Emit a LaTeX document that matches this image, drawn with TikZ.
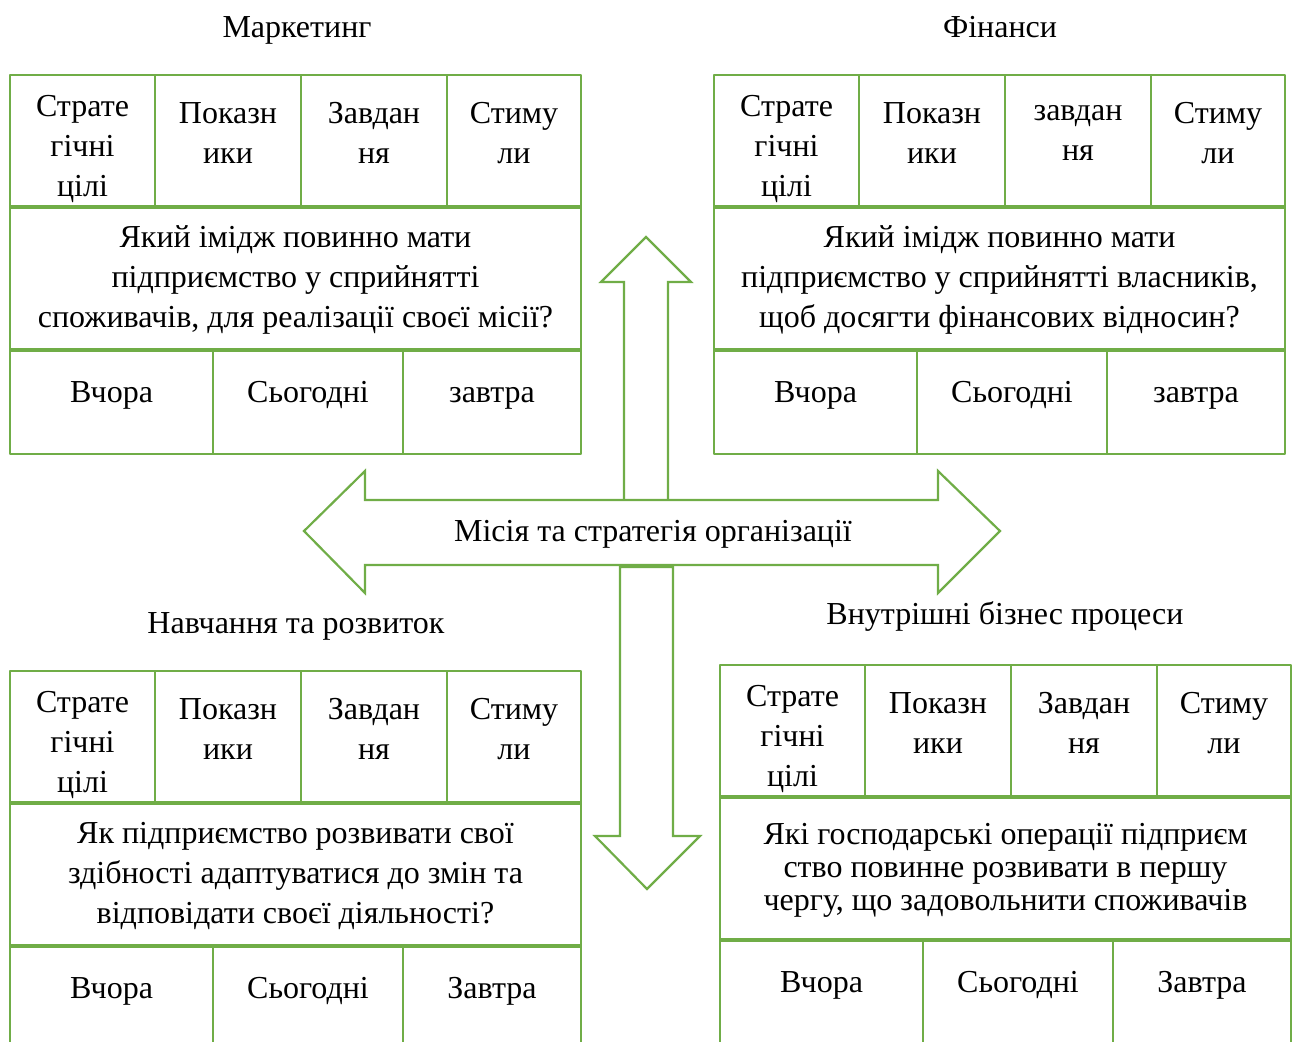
\documentclass[tikz,border=0pt]{standalone}
\usepackage{fontspec}
\setmainfont{Liberation Serif}
\definecolor{leaf}{HTML}{70AD47}
\tikzset{
  frame/.style={draw=leaf, line width=1.4pt},
  sep/.style={draw=leaf, line width=2pt},
  pointer/.style={draw=leaf, line width=1.1pt, line join=miter, fill=white},
  cell/.style={align=center, inner sep=0pt},
  word/.style={inner sep=0pt, anchor=base},
}
\newcommand{\panel}[6]{%
  \begin{scope}[shift={#2}]
    \draw[frame] (0,0) rectangle (571,#3);
    \foreach \x in {145,291,437} \draw[frame] (\x,0) -- (\x,132);
    \foreach \x in {203,393} \draw[frame] (\x,275) -- (\x,#3);
    \draw[sep] (0,132) -- (571,132) (0,275) -- (571,275);
    \node[cell] (#1-goal) at (72.5,74) {Страте\\гічні\\цілі};
    \node[cell] (#1-kpi) at (218,58) {Показн\\ики};
    \node[cell] (#1-task) at (364,58) {#4\\ня};
    \node[cell] (#1-bonus) at (504,58) {Стиму\\ли};
    \node[cell] (#1-ask) at (285.5,205) {#5};
    \node[word] (#1-past) at (101.5,327) {Вчора};
    \node[word] (#1-now) at (298,327) {Сьогодні};
    \node[word] (#1-next) at (482,327) {#6};
  \end{scope}}
\begin{document}
\begin{tikzpicture}[x=0.5pt, y=-0.5pt, font=\fontsize{16}{20}\selectfont, line join=round]
  \useasboundingbox (0,0) rectangle (1295,1041);
  \clip (0,0) rectangle (1295,1041);

  \node[word] (mkt) at (297,37.5) {Маркетинг};
  \node[word] (fin) at (1000,37.5) {Фінанси};
  \node[word] (edu) at (296,633.5) {Навчання та розвиток};
  \node[word] (ops) at (1005,624.5) {Внутрішні бізнес процеси};

  \panel{mkt}{(10,75)}{379}{Завдан}{Який імідж повинно мати\\підприємство у сприйнятті\\споживачів, для реалізації своєї місії?}{завтра}
  \panel{fin}{(714,75)}{379}{завдан}{Який імідж повинно мати\\підприємство у сприйнятті власників,\\щоб досягти фінансових відносин?}{завтра}
  \panel{edu}{(10,671)}{400}{Завдан}{Як підприємство розвивати свої\\здібності адаптуватися до змін та\\відповідати своєї діяльності?}{Завтра}
  \panel{ops}{(720,665)}{400}{Завдан}{Які господарські операції підприєм\\[-3.5pt]ство повинне розвивати в першу\\[-3.5pt]чергу, що задовольнити споживачів}{Завтра}

  \draw[pointer] (624,502) -- (624,282) -- (601,282) -- (646,237) -- (691,282) -- (668,282) -- (668,502);
  \draw[pointer] (304,531) -- (365,471) -- (365,500) -- (938,500) -- (938,471) -- (1000,531)
    -- (938,593) -- (938,565) -- (365,565) -- (365,593) -- cycle;
  \draw[pointer] (620,567) -- (673,567) -- (673,836) -- (700,836) -- (647,889) -- (595,836)
    -- (620,836) -- cycle;
  \node[word] (mission) at (653,541.5) {Місія та стратегія організації};
\end{tikzpicture}
\end{document}
